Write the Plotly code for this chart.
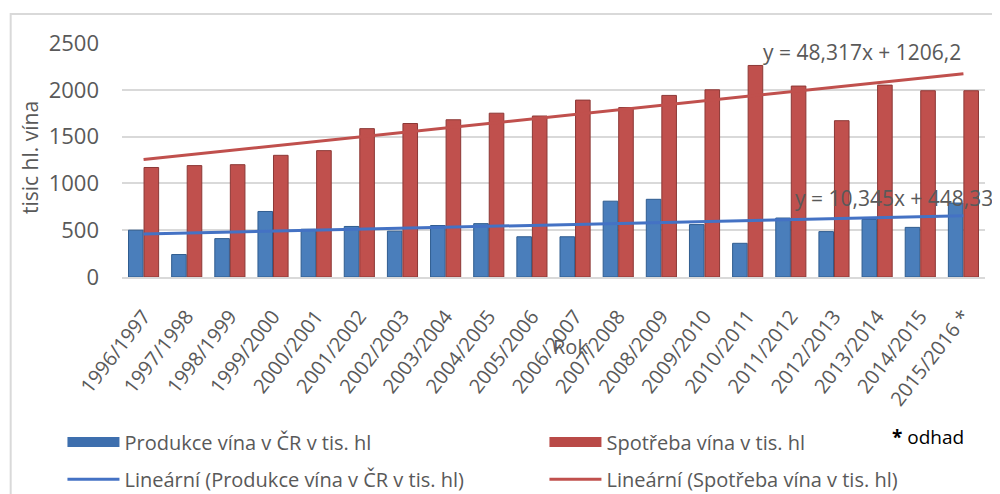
""" Produkce a spotřeba vína v ČR s lineárními trendy.
"""

import plotly.graph_objects as go

roky = ["1996/1997", "1997/1998", "1998/1999", "1999/2000", "2000/2001",
        "2001/2002", "2002/2003", "2003/2004", "2004/2005", "2005/2006",
        "2006/2007", "2007/2008", "2008/2009", "2009/2010", "2010/2011",
        "2011/2012", "2012/2013", "2013/2014", "2014/2015", "2015/2016 *"]
produkce = [500, 240, 410, 700, 510, 540, 490, 550, 570, 430,
            430, 810, 830, 560, 360, 630, 485, 615, 530, 790]
spotreba = [1170, 1190, 1200, 1300, 1350, 1585, 1640, 1680, 1750, 1720,
            1890, 1810, 1940, 2000, 2260, 2040, 1670, 2050, 1990, 1990]

# trend coefficients as printed in the chart
trend_produkce = (10.345, 448.33)
trend_spotreba = (48.317, 1206.2)

BLUE = "#4A7EBB"
RED = "#C0504D"
GREY = "#595959"
FONT = "Open Sans"

N_PROD = "Produkce vína v ČR v tis. hl"
N_SPOT = "Spotřeba vína v tis. hl"


def trend(coef):
    k, q = coef
    return [k * (i + 1) + q for i in range(len(roky))]


def eq_text(coef):
    k, q = coef
    return "y = " + f"{k:g}".replace(".", ",") + "x + " + f"{q:g}".replace(".", ",")


fig = go.Figure()
fig.add_trace(go.Bar(x=roky, y=produkce, name=N_PROD, showlegend=False,
                     marker=dict(color=BLUE, line=dict(color="#2F5C8F", width=1))))
fig.add_trace(go.Bar(x=roky, y=spotreba, name=N_SPOT, showlegend=False,
                     marker=dict(color=RED, line=dict(color="#8C3836", width=1))))
fig.add_trace(go.Scatter(x=roky, y=trend(trend_produkce), mode="lines",
                         name="Lineární (" + N_PROD + ")", legend="legend3",
                         line=dict(color="#4472C4", width=3)))
fig.add_trace(go.Scatter(x=roky, y=trend(trend_spotreba), mode="lines",
                         name="Lineární (" + N_SPOT + ")", legend="legend4",
                         line=dict(color=RED, width=3)))
# legend-only entries drawn as wide blocks, like the bar keys in the original
fig.add_trace(go.Scatter(x=[None], y=[None], mode="lines", name=N_PROD,
                         legend="legend", hoverinfo="skip",
                         line=dict(color="#3E6FAE", width=14)))
fig.add_trace(go.Scatter(x=[None], y=[None], mode="lines", name=N_SPOT,
                         legend="legend2", hoverinfo="skip",
                         line=dict(color="#B94A47", width=14)))

fig.add_annotation(x=0.9745, y=0.9615, xref="paper", yref="paper",
                   text=eq_text(trend_spotreba), showarrow=False,
                   xanchor="right", yanchor="middle",
                   font=dict(size=21, color=GREY, family=FONT))
fig.add_annotation(x=1.0116, y=0.3376, xref="paper", yref="paper",
                   text=eq_text(trend_produkce), showarrow=False,
                   xanchor="right", yanchor="middle",
                   font=dict(size=21, color=GREY, family=FONT))
fig.add_annotation(x=-0.1066, y=0.5085, xref="paper", yref="paper",
                   text="tisic hl. vína", textangle=-90, showarrow=False,
                   xanchor="center", yanchor="middle",
                   font=dict(size=21, color=GREY, family=FONT))
fig.add_annotation(x=0.52, y=-0.299, xref="paper", yref="paper", text="Rok",
                   showarrow=False, xanchor="center", yanchor="middle",
                   font=dict(size=20, color=GREY, family=FONT))
fig.add_annotation(x=0.89, y=-0.684, xref="paper", yref="paper",
                   text="<b>*</b> odhad", showarrow=False, xanchor="left",
                   yanchor="middle",
                   font=dict(size=19, color="black", family=FONT))

# outer chart border
fig.add_shape(type="rect", xref="paper", yref="paper",
              x0=-0.129, x1=1.03, y0=-1.0, y1=1.124,
              line=dict(color="#D9D9D9", width=2), layer="below")

legend_style = dict(orientation="v", yanchor="middle", xanchor="left",
                    itemwidth=52, tracegroupgap=0, bgcolor="rgba(0,0,0,0)",
                    font=dict(size=20, color=GREY, family=FONT))

# page body adds an 8px offset, so the figure is 8px smaller than the window
fig.update_layout(
    width=992, height=486,
    margin=dict(l=114, r=15, t=35, b=217, autoexpand=False),
    paper_bgcolor="white", plot_bgcolor="white",
    barmode="group", bargap=0.28, bargroupgap=0.06,
    font=dict(family=FONT, color=GREY),
    legend=dict(x=-0.069, y=-0.705, **legend_style),
    legend2=dict(x=0.4895, y=-0.705, **legend_style),
    legend3=dict(x=-0.069, y=-0.864, **legend_style),
    legend4=dict(x=0.4895, y=-0.864, **legend_style),
)
fig.update_yaxes(range=[0, 2500], dtick=500, showgrid=True, gridcolor="#D9D9D9",
                 gridwidth=1.5, zeroline=False, showline=False, automargin=False,
                 tickfont=dict(size=22, color=GREY), ticks="",
                 ticklabelstandoff=22)
fig.update_xaxes(showline=True, linecolor="#D9D9D9", linewidth=1.5,
                 automargin=False, tickangle=-52, ticklabelstandoff=18,
                 tickfont=dict(size=20, color=GREY), ticks="")

fig.write_html("out.html")
